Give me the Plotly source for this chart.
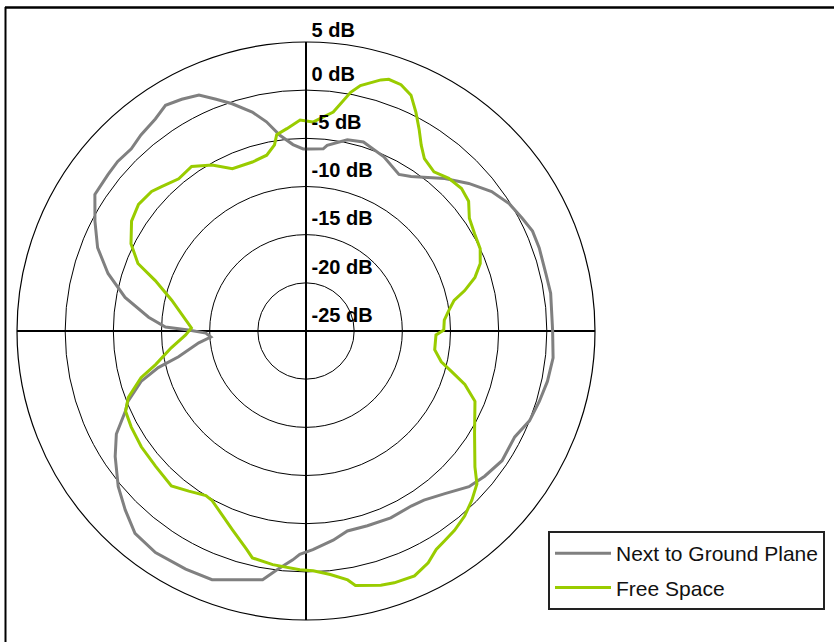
import plotly.graph_objects as go

# Angles (degrees, clockwise from top) and levels (dB)
ground_theta = [1.3, 5.4, 6.5, 12.2, 16.9, 24.1, 30.7, 34.2, 42.3, 47.8, 53.1, 58.0, 62.4, 66.2,
                70.4, 76.5, 81.2, 89.8, 96.2, 101.8, 106.8, 111.9, 116.9, 123.5, 129.1, 133.7,
                139.5, 145.1, 149.0, 155.6, 162.5, 168.3, 172.6, 178.2, 181.6, 183.3, 187.0,
                189.9, 200.7, 206.8, 214.2, 220.2, 225.3, 230.4, 236.7, 241.5, 246.1, 248.4,
                253.0, 256.1, 258.6, 263.7, 266.4, 268.8, 270.5, 271.6, 275.0, 280.5, 286.2,
                291.8, 297.5, 302.9, 308.3, 312.0, 316.2, 319.9, 324.6, 328.1, 331.8, 335.6,
                338.8, 342.0, 346.2, 349.3, 352.4, 356.0, 359.1, 361.3]
ground_db = [-6.1, -6.0, -5.6, -4.7, -4.5, -5.2, -6.1, -5.6, -3.6, -2.2, -0.9, -0.1, 0.3, 0.7,
             0.7, 0.6, 0.7, 0.6, 0.8, 0.6, 0.3, 0.0, -0.7, -0.6, -1.1, -1.6,
             -2.8, -3.6, -3.8, -3.7, -3.8, -3.8, -3.1, -2.3, -1.8, -1.2, 0.0,
             1.2, 2.6, 2.7, 2.8, 2.5, 1.4, 0.3, -1.3, -2.6, -4.5, -5.1,
             -7.1, -9.2, -11.5, -13.8, -15.1, -14.6, -12.8, -10.4, -8.6, -5.9, -3.6,
             -1.7, -0.3, 1.1, 1.2, 1.3, 1.2, 1.6, 2.0, 2.6, 2.3, 1.9,
             0.8, -0.2, -1.6, -2.9, -4.5, -5.6, -6.1, -6.1]

free_theta = [1.9, 7.1, 10.6, 12.5, 16.6, 18.2, 21.1, 24.0, 26.7, 29.3, 31.8, 34.5, 38.8, 43.1,
              47.5, 51.4, 55.4, 60.1, 64.7, 68.8, 72.4, 75.7, 78.3, 81.7, 85.5, 89.6, 91.7,
              98.3, 102.8, 105.6, 108.6, 112.6, 121.4, 128.8, 131.8, 135.6, 139.4, 143.3,
              146.6, 149.2, 152.2, 156.1, 160.7, 163.6, 169.0, 170.5, 174.3, 178.3, 181.5,
              188.1, 193.3, 195.2, 200.3, 209.1, 211.3, 216.2, 221.0, 228.0, 234.9, 241.2,
              246.0, 249.5, 254.2, 257.4, 262.9, 268.1, 271.5, 282.9, 288.5, 291.9, 296.5,
              302.2, 307.1, 312.1, 315.0, 320.1, 325.2, 330.5, 335.6, 342.4, 347.4, 350.4,
              351.5, 354.6, 358.4, 361.9]
free_db = [-3.3, -2.1, 0.2, 1.1, 2.2, 2.5, 2.4, 1.8, 0.4, -1.0, -2.3, -3.3, -3.8, -3.3,
           -3.1, -3.4, -4.4, -4.8, -5.0, -5.6, -6.6, -8.0, -9.3, -10.0, -10.6, -10.7, -11.5,
           -11.5, -10.6, -9.3, -7.6, -6.0, -4.5, -2.5, -1.2, -0.4, 0.3, 0.8,
           1.1, 1.4, 2.2, 2.8, 2.7, 2.5, 1.9, 1.2, 0.4, -0.1, -0.2,
           -0.5, -0.8, -1.5, -3.0, -4.9, -5.0, -4.4, -3.7, -4.0, -4.1, -4.3,
           -4.5, -5.3, -7.2, -9.0, -10.9, -12.5, -13.1, -10.7, -8.5, -6.2, -4.7,
           -3.6, -3.2, -3.4, -3.8, -4.4, -4.2, -5.2, -6.5, -6.6, -6.3, -5.4,
           -4.4, -3.9, -3.1, -3.3]

tick_vals = [-25, -20, -15, -10, -5, 0, 5]
tick_labels = ["-25 dB", "-20 dB", "-15 dB", "-10 dB", "-5 dB", "0 dB", "5 dB"]

R_MIN, R_MAX = -25, 5
LABEL_LIFT = 0.45  # dB; lifts each ring label a little above its ring

fig = go.Figure()
fig.add_trace(go.Scatterpolar(
    r=ground_db, theta=ground_theta, mode="lines", name="Next to Ground Plane",
    legendgroup="g1", line=dict(color="#808080", width=3), hoverinfo="skip"))
fig.add_trace(go.Scatterpolar(
    r=free_db, theta=free_theta, mode="lines", name="Free Space",
    legendgroup="g2", line=dict(color="#99CC00", width=3), hoverinfo="skip"))
# radial labels placed just above each ring on the upward axis
fig.add_trace(go.Scatterpolar(
    r=[min(v + LABEL_LIFT, R_MAX) for v in tick_vals], theta=[0] * len(tick_vals),
    mode="text", text=["\u00a0" + t for t in tick_labels], textposition="top right",
    showlegend=False, hoverinfo="skip", cliponaxis=False,
    textfont=dict(family="Liberation Sans, Arial", size=20, color="black", weight="bold")))

fig.update_layout(
    width=834, height=642,
    margin=dict(l=0, r=0, t=0, b=0),
    paper_bgcolor="white",
    font=dict(family="Liberation Sans, Arial", color="black"),
    polar=dict(
        domain=dict(x=[17 / 834, 595 / 834], y=[1 - 620 / 642, 1 - 42 / 642]),
        bgcolor="white",
        radialaxis=dict(range=[R_MIN, R_MAX], tickvals=tick_vals, showticklabels=False,
                        ticks="", showgrid=True, gridcolor="black", gridwidth=1.2,
                        showline=True, linecolor="black", linewidth=1.5, angle=90),
        angularaxis=dict(rotation=90, direction="clockwise", dtick=90,
                         showticklabels=False, ticks="", showgrid=True,
                         gridcolor="black", gridwidth=1.5,
                         showline=True, linecolor="black", linewidth=1.2),
    ),
    legend=dict(x=548 / 834, y=1 - 531 / 642, xanchor="left", yanchor="top",
                bgcolor="white", bordercolor="#222222", borderwidth=2,
                font=dict(family="Liberation Sans, Arial", size=21, color="#111111"),
                itemwidth=56, tracegroupgap=4),
    shapes=[
        dict(type="line", xref="paper", yref="paper", x0=5 / 834, x1=1, y0=1 - 7.5 / 642,
             y1=1 - 7.5 / 642, line=dict(color="black", width=2.5)),
        dict(type="line", xref="paper", yref="paper", x0=5.5 / 834, x1=5.5 / 834,
             y0=0, y1=1 - 7 / 642, line=dict(color="black", width=2)),
    ],
)

fig.write_html("out.html", config={"displayModeBar": False},
               post_script="document.body.style.margin='0';document.body.style.overflow='hidden';")
